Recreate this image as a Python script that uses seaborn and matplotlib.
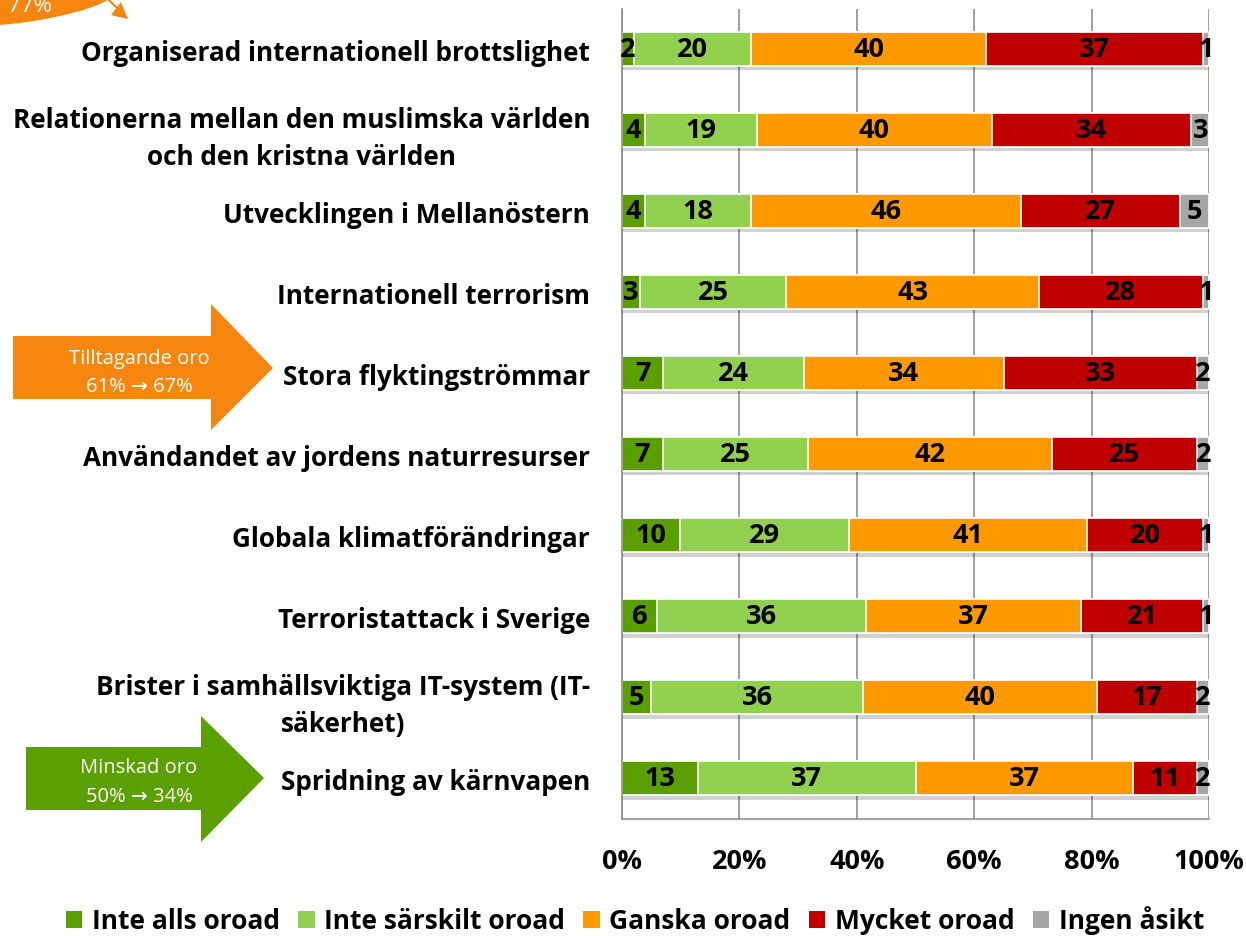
import matplotlib
matplotlib.use("Agg")
import matplotlib.pyplot as plt
import matplotlib.patheffects as pe
from matplotlib.patches import Polygon, Patch
from matplotlib.lines import Line2D
from matplotlib.ticker import FixedLocator, PercentFormatter
import seaborn as sns
import numpy as np
import pandas as pd

# Andel oroade per fråga (procent)
categories = [
    "Organiserad internationell brottslighet",
    "Relationerna mellan den muslimska världen\noch den kristna världen",
    "Utvecklingen i Mellanöstern",
    "Internationell terrorism",
    "Stora flyktingströmmar",
    "Användandet av jordens naturresurser",
    "Globala klimatförändringar",
    "Terroristattack i Sverige",
    "Brister i samhällsviktiga IT-system (IT-\nsäkerhet)",
    "Spridning av kärnvapen",
]
inte_alls = [2, 4, 4, 3, 7, 7, 10, 6, 5, 13]
inte_sarskilt = [20, 19, 18, 25, 24, 25, 29, 36, 36, 37]
ganska = [40, 40, 46, 43, 34, 42, 41, 37, 40, 37]
mycket = [37, 34, 27, 28, 33, 25, 20, 21, 17, 11]
ingen = [1, 3, 5, 1, 2, 2, 1, 1, 2, 2]

series_names = ["Inte alls oroad", "Inte särskilt oroad", "Ganska oroad",
                "Mycket oroad", "Ingen åsikt"]
colors = ["#5A9E00", "#92D050", "#FF9900", "#C00000", "#A6A6A6"]
x_ticks = [0, 20, 40, 60, 80, 100]

W, H = 1246, 937
GRID = "#868686"

df = pd.DataFrame(dict(zip(series_names,
                           [inte_alls, inte_sarskilt, ganska, mycket, ingen])),
                  index=categories)
shares = df.div(df.sum(axis=1), axis=0) * 100
cum = shares.cumsum(axis=1)
cum_long = cum.reset_index().rename(columns={"index": "Fråga"})

sns.set_theme(style="white")
plt.rcParams["font.family"] = ["Open Sans", "DejaVu Sans"]
plt.rcParams["text.color"] = "black"
plt.rcParams["xtick.labelcolor"] = "black"
plt.rcParams["ytick.labelcolor"] = "black"


def px(x, y):
    return (x / W, 1 - y / H)


fig = plt.figure(figsize=(W / 100, H / 100), dpi=100)
ax = fig.add_axes([622 / W, 1 - 820 / H, (1209 - 622) / W, (820 - 9.5) / H])

# 100%-staplar: rita kumulativa summor från största till minsta
for i in reversed(range(len(series_names))):
    sns.barplot(data=cum_long, x=series_names[i], y="Fråga", orient="h",
                color=colors[i], saturation=1, width=0.42, errorbar=None,
                edgecolor="white", linewidth=1.2, ax=ax)

for bar in ax.containers[0]:
    bar.set_path_effects([pe.SimplePatchShadow(offset=(0, -3), shadow_rgbFace="black", alpha=0.18),
                          pe.Normal()])

# värdeetiketter mitt i varje segment
for r, cat in enumerate(categories):
    for name in series_names:
        center = cum.loc[cat, name] - shares.loc[cat, name] / 2
        ax.text(center, r, str(df.loc[cat, name]), ha="center", va="center",
                fontsize=19.5, fontweight="bold", color="black")

ax.set_xlim(0, 100)
ax.set_ylim(len(categories) - 0.5, -0.5)
ax.xaxis.set_major_locator(FixedLocator(x_ticks))
ax.xaxis.set_major_formatter(PercentFormatter(decimals=0))
ax.grid(axis="x", color=GRID, linewidth=1.1)
ax.grid(axis="y", visible=False)
ax.set_axisbelow(True)
ax.set_xlabel("")
ax.set_ylabel("")

ax.set_yticks(range(len(categories)))
ax.set_yticklabels(categories)
ax.yaxis.set_minor_locator(FixedLocator(np.arange(-0.5, len(categories), 1)))
ax.tick_params(axis="y", which="major", length=0, pad=23, labelsize=18.8)
ax.tick_params(axis="y", which="minor", length=7, width=1.1, color=GRID, direction="out")
ax.tick_params(axis="x", length=9, width=1.1, color=GRID, direction="out", pad=12, labelsize=19.5)
for lbl in ax.get_yticklabels() + ax.get_xticklabels():
    lbl.set_fontweight("bold")
for lbl in ax.get_yticklabels():
    lbl.set_multialignment("center")
    lbl.set_linespacing(1.45)

for s in ["top", "right"]:
    ax.spines[s].set_visible(False)
for s in ["left", "bottom"]:
    ax.spines[s].set_color(GRID)
    ax.spines[s].set_linewidth(1.1)

handles = [Patch(facecolor=c, edgecolor="none") for c in colors]
fig.legend(handles, series_names, loc="center", bbox_to_anchor=px(635, 921),
           ncol=5, frameon=False, prop={"weight": "bold", "size": 19},
           handlelength=0.62, handleheight=0.6, handletextpad=0.36, columnspacing=0.7)

# pilar med kommentarer
ORANGE = "#F7860F"
GREEN = "#5AA000"
arrow_font = ["Open Sans", "DejaVu Sans"]

orange_pts = [(13, 337), (211, 337), (211, 305), (273, 369), (211, 431), (211, 400), (13, 400)]
green_pts = [(26, 748), (201, 748), (201, 717), (264, 779), (201, 843), (201, 811), (26, 811)]
fig.add_artist(Polygon([px(*p) for p in orange_pts], closed=True, facecolor=ORANGE,
                       edgecolor="none", transform=fig.transFigure))
fig.add_artist(Polygon([px(*p) for p in green_pts], closed=True, facecolor=GREEN,
                       edgecolor="none", transform=fig.transFigure))
fig.text(*px(139, 359), "Tilltagande oro", color="white", fontsize=14.5,
         family=arrow_font, ha="center", va="center")
fig.text(*px(139, 387), "61% \u2192 67%", color="white", fontsize=14.5,
         family=arrow_font, ha="center", va="center")
fig.text(*px(139, 768), "Minskad oro", color="white", fontsize=14.5,
         family=arrow_font, ha="center", va="center")
fig.text(*px(139, 797), "50% \u2192 34%", color="white", fontsize=14.5,
         family=arrow_font, ha="center", va="center")

# avskuren böjd pil uppe till vänster
band = [(0, 26), (20, 24), (40, 21), (60, 17), (80, 12), (95, 7), (106, 2), (108, -3), (0, -3)]
fig.add_artist(Polygon([px(*p) for p in band], closed=True, facecolor=ORANGE,
                       edgecolor="none", transform=fig.transFigure))
fig.add_artist(Polygon([px(*p) for p in [(111, 16), (128, 20), (121, 3)]], closed=True,
                       facecolor=ORANGE, edgecolor="none", transform=fig.transFigure))
fig.add_artist(Line2D([px(106, -2)[0], px(117, 9)[0]], [px(106, -2)[1], px(117, 9)[1]],
                      color=ORANGE, linewidth=1.5, transform=fig.transFigure))
fig.text(*px(8, 12), "77%", color="white", fontsize=16, family=arrow_font,
         ha="left", va="baseline")

fig.savefig("out.png", dpi=100)
plt.close(fig)
